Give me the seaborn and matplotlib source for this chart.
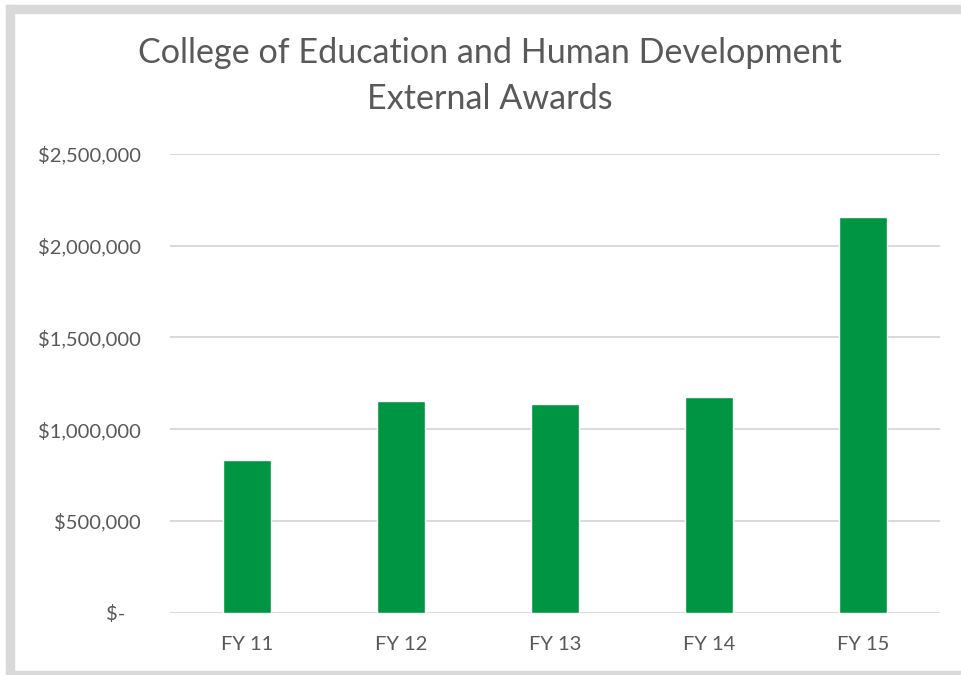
import matplotlib
matplotlib.use("Agg")
import matplotlib.pyplot as plt
import matplotlib.ticker as mticker
from matplotlib.patches import Rectangle
import seaborn as sns
import pandas as pd

categories = ["FY 11", "FY 12", "FY 13", "FY 14", "FY 15"]
awards = [833000, 1156000, 1136000, 1178000, 2159000]
y_ticks = [0, 500000, 1000000, 1500000, 2000000, 2500000]
title_lines = ["College of Education and Human Development", "External Awards"]

sns.set_style("white")
plt.rcParams['font.family'] = ['Open Sans', 'DejaVu Sans']

W, H = 961, 675
fig = plt.figure(figsize=(W / 100, H / 100), dpi=100)
ax = fig.add_axes([170 / W, 1 - 612.7 / H, (940 - 170) / W, (612.7 - 154) / H])

df = pd.DataFrame({"year": categories, "amount": awards})
sns.barplot(data=df, x="year", y="amount", color="#009543", width=0.31,
            saturation=1, ax=ax, zorder=3)

ax.set_ylim(0, 2500000)
ax.set_xlim(-0.5, len(categories) - 0.5)
ax.set_yticks(y_ticks)

def fmt(v, pos):
    if v == 0:
        return "$-   "
    return "${:,.0f}".format(v)

ax.yaxis.set_major_formatter(mticker.FuncFormatter(fmt))
ax.grid(axis="y", color="#d9d9d9", linewidth=1.4, zorder=0)
ax.set_axisbelow(True)
for s in ax.spines.values():
    s.set_visible(False)
ax.tick_params(axis="both", length=0, labelcolor="#595959")
for lbl in ax.get_yticklabels() + ax.get_xticklabels():
    lbl.set_fontfamily(['Lato', 'DejaVu Sans'])
    lbl.set_fontsize(14.5)
ax.tick_params(axis="y", pad=21)
ax.tick_params(axis="x", pad=17)
ax.set_xlabel("")
ax.set_ylabel("")

fig.text(490 / W, 1 - 53 / H, title_lines[0],
         ha="center", va="center", fontsize=24.6, color="#595959",
         family=['Lato', 'DejaVu Sans'])
fig.text(490 / W, 1 - 99 / H, title_lines[1],
         ha="center", va="center", fontsize=24.6, color="#595959",
         family=['Lato', 'DejaVu Sans'])

# chart frame (light gray border)
border = "#d9d9d9"
fig.patches.append(Rectangle((6 / W, 1 - 13 / H), 1 - 6 / W, 8 / H,
                             transform=fig.transFigure, color=border, zorder=0))
fig.patches.append(Rectangle((6 / W, 0), 8 / W, 1 - 5 / H,
                             transform=fig.transFigure, color=border, zorder=0))
fig.patches.append(Rectangle((6 / W, 0), 1 - 6 / W, 4.5 / H,
                             transform=fig.transFigure, color=border, zorder=0))

fig.savefig("out.png", dpi=100)
